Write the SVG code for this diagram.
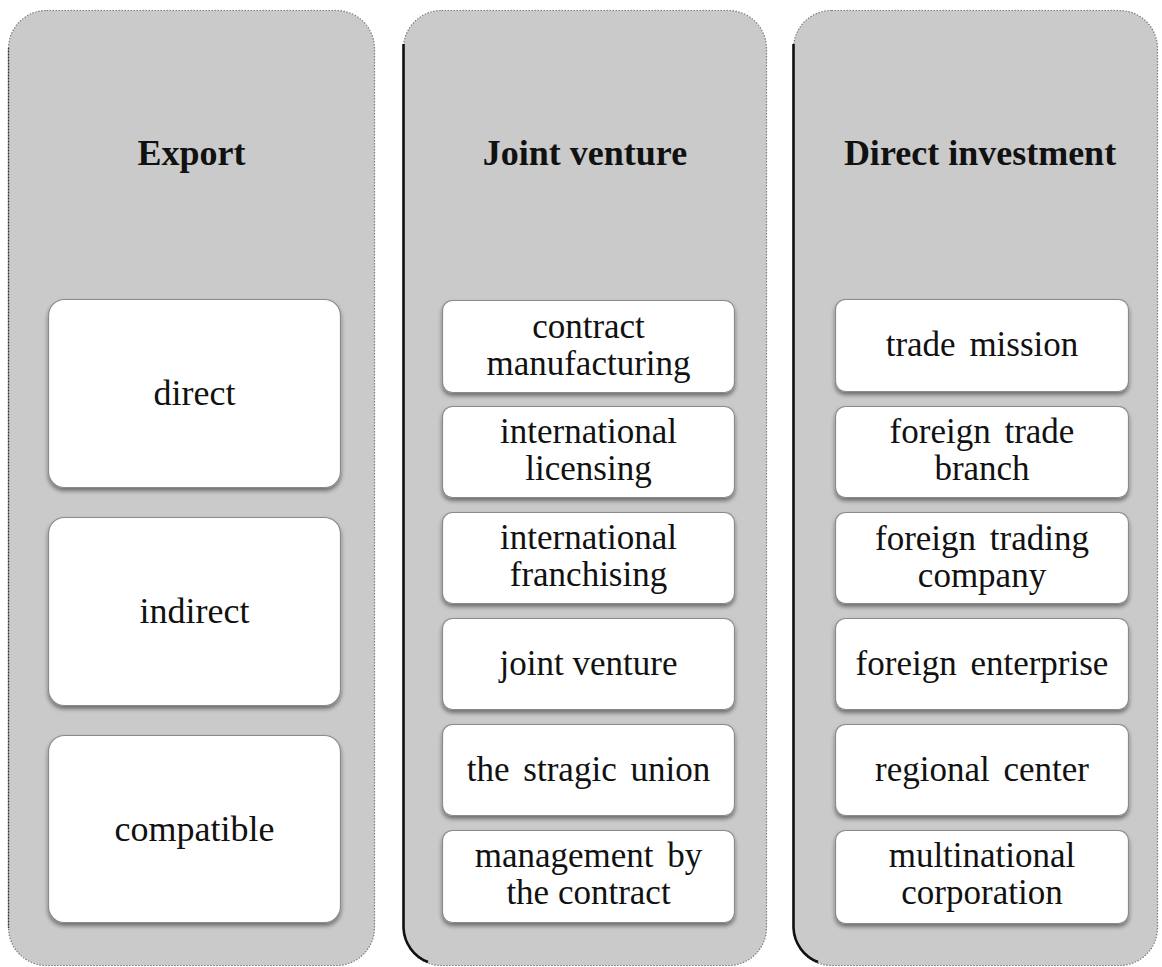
<svg xmlns="http://www.w3.org/2000/svg" width="1162" height="967" viewBox="0 0 1162 967">
<style>
.col{fill:#cacaca;stroke:#7a7a7a;stroke-width:1.2;stroke-dasharray:1.5 1.5}
.edge{fill:none;stroke:#111;stroke-width:2.6}
.box{fill:#ffffff;stroke:#8a8a8a;stroke-width:1.2}
.title{font-family:"Liberation Serif","Times New Roman",serif;font-weight:bold;font-size:36px;fill:#111;text-anchor:middle}
.lbl{font-family:"Liberation Serif","Times New Roman",serif;font-size:35px;fill:#111;text-anchor:middle;word-spacing:5px}
.big{font-size:36px;word-spacing:0}
.ns{word-spacing:0}
</style>
<defs>
<filter id="sh" x="-10%" y="-10%" width="120%" height="130%">
<feDropShadow dx="0" dy="3" stdDeviation="2" flood-color="#000" flood-opacity="0.45"/>
</filter>
</defs>
<rect width="1162" height="967" fill="#ffffff"/>

<g id="col-export">
<rect class="col" x="8.5" y="10.5" width="366" height="955" rx="38"/>
<path fill="none" stroke="#333" stroke-width="1.4" stroke-dasharray="1.5 1.5" d="M8.5,48 V928"/>
<text class="title" x="191.5" y="165">Export</text>
</g>
<g id="col-joint">
<rect class="col" x="403.5" y="10.5" width="363" height="955" rx="38"/>
<path class="edge" d="M403.5,44 V928 A38,38 0 0 0 428,962"/>
<text class="title" x="585" y="165">Joint venture</text>
</g>
<g id="col-direct">
<rect class="col" x="793.5" y="10.5" width="364" height="955" rx="38"/>
<path class="edge" d="M793.5,44 V928 A38,38 0 0 0 818,962"/>
<text class="title" x="980" y="165">Direct investment</text>
</g>

<g id="e1"><rect class="box" filter="url(#sh)" x="48.5" y="299.5" width="292" height="188" rx="16"/><text class="lbl big" x="194.5" y="405">direct</text></g>
<g id="e2"><rect class="box" filter="url(#sh)" x="48.5" y="517.5" width="292" height="188" rx="16"/><text class="lbl big" x="194.5" y="623">indirect</text></g>
<g id="e3"><rect class="box" filter="url(#sh)" x="48.5" y="735.5" width="292" height="187" rx="16"/><text class="lbl big" x="194.5" y="841">compatible</text></g>

<g id="j1"><rect class="box" filter="url(#sh)" x="442.5" y="300.5" width="292" height="92" rx="10"/><text class="lbl" x="588.5" y="338">contract</text><text class="lbl" x="588.5" y="375">manufacturing</text></g>
<g id="j2"><rect class="box" filter="url(#sh)" x="442.5" y="406.5" width="292" height="91" rx="10"/><text class="lbl" x="588.5" y="443">international</text><text class="lbl" x="588.5" y="480">licensing</text></g>
<g id="j3"><rect class="box" filter="url(#sh)" x="442.5" y="512.5" width="292" height="91" rx="10"/><text class="lbl" x="588.5" y="549">international</text><text class="lbl" x="588.5" y="586">franchising</text></g>
<g id="j4"><rect class="box" filter="url(#sh)" x="442.5" y="618.5" width="292" height="91" rx="10"/><text class="lbl ns" x="588.5" y="675">joint venture</text></g>
<g id="j5"><rect class="box" filter="url(#sh)" x="442.5" y="724.5" width="292" height="91" rx="10"/><text class="lbl" x="588.5" y="781">the stragic union</text></g>
<g id="j6"><rect class="box" filter="url(#sh)" x="442.5" y="830.5" width="292" height="92" rx="10"/><text class="lbl" x="588.5" y="867">management by</text><text class="lbl ns" x="588.5" y="904">the contract</text></g>

<g id="d1"><rect class="box" filter="url(#sh)" x="835.5" y="299.5" width="293" height="92" rx="10"/><text class="lbl" x="982" y="356">trade mission</text></g>
<g id="d2"><rect class="box" filter="url(#sh)" x="835.5" y="406.5" width="293" height="91" rx="10"/><text class="lbl" x="982" y="443">foreign trade</text><text class="lbl" x="982" y="480">branch</text></g>
<g id="d3"><rect class="box" filter="url(#sh)" x="835.5" y="512.5" width="293" height="91" rx="10"/><text class="lbl" x="982" y="550">foreign trading</text><text class="lbl" x="982" y="587">company</text></g>
<g id="d4"><rect class="box" filter="url(#sh)" x="835.5" y="618.5" width="293" height="91" rx="10"/><text class="lbl" x="982" y="675">foreign enterprise</text></g>
<g id="d5"><rect class="box" filter="url(#sh)" x="835.5" y="724.5" width="293" height="91" rx="10"/><text class="lbl" x="982" y="781">regional center</text></g>
<g id="d6"><rect class="box" filter="url(#sh)" x="835.5" y="830.5" width="293" height="93" rx="10"/><text class="lbl" x="982" y="867">multinational</text><text class="lbl" x="982" y="904">corporation</text></g>

<g id="connectors"></g>
</svg>
